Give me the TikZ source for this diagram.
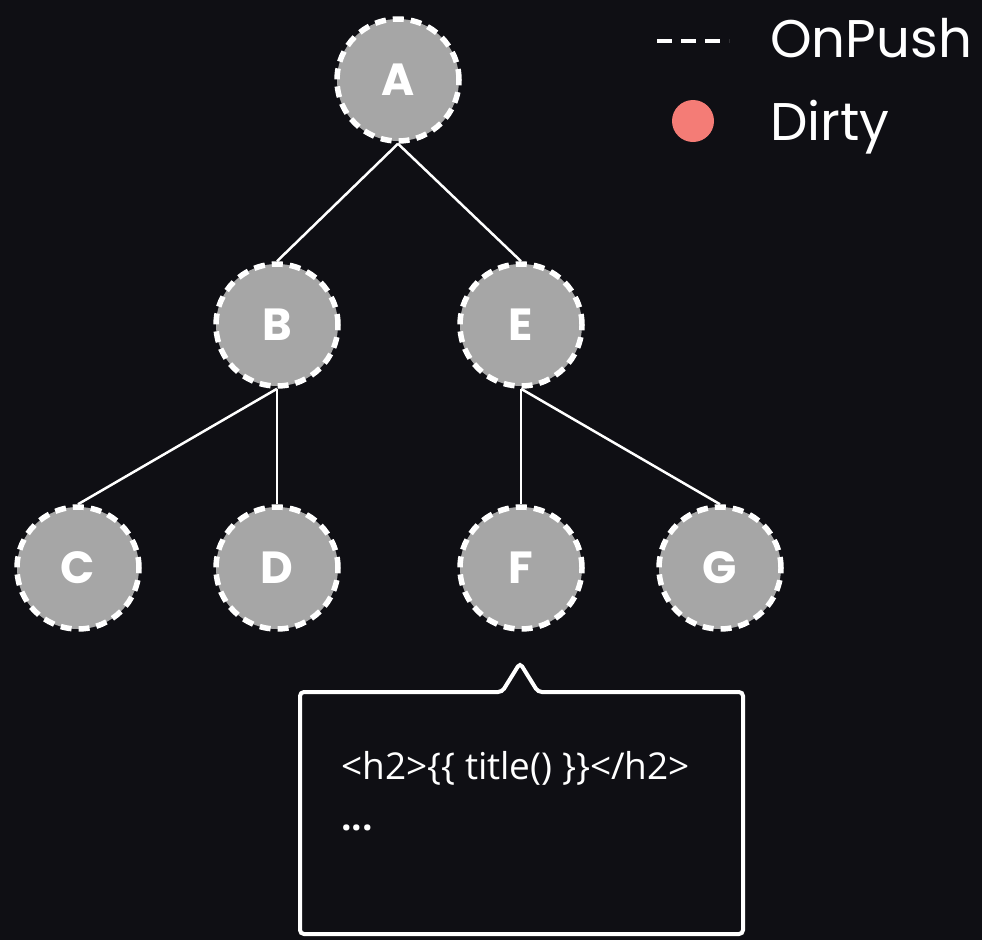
\documentclass[tikz,border=0pt]{standalone}
\usepackage{fontspec}
\setmainfont{Poppins}
\newfontfamily\codefont{Open Sans}
\definecolor{bgc}{HTML}{0F0F14}
\definecolor{nodegray}{HTML}{A6A6A6}
\definecolor{dirtyred}{HTML}{F47C76}
\begin{document}
\begin{tikzpicture}[x=1pt,y=-1pt,
  comp/.style={circle, minimum size=122pt, inner sep=0pt, fill=nodegray, draw=white,
    line width=5.5pt, dash pattern=on 11pt off 7pt,
    text=white, font=\fontsize{45}{45}\selectfont\bfseries},
  edge/.style={draw=white, line width=2.5pt},
  legendtext/.style={text=white, anchor=base west, inner sep=0pt, font=\fontsize{53}{53}\selectfont},
  codetext/.style={text=white, anchor=base west, inner sep=0pt, font=\codefont\fontsize{37}{37}\selectfont},
  callout/.style={draw=white, line width=4pt, rounded corners=4pt}]
\fill[bgc] (0,0) rectangle (982,940);
\useasboundingbox (0,0) rectangle (982,940);

\node[comp] (A) at (398,80) {A};
\node[comp] (B) at (277,325) {B};
\node[comp] (E) at (521,325) {E};
\node[comp] (C) at (78,568) {C};
\node[comp] (D) at (277,568) {D};
\node[comp] (F) at (521,568) {F};
\node[comp] (G) at (720,568) {G};

\draw[edge] (A.south) -- (B.north);
\draw[edge] (A.south) -- (E.north);
\draw[edge] (B.south) -- (C.north);
\draw[edge] (B.south) -- (D.north);
\draw[edge] (E.south) -- (F.north);
\draw[edge] (E.south) -- (G.north);

% legend
\coordinate (l1) at (657,41);
\coordinate (l2) at (729,41);
\draw[white, line width=4.5pt, dash pattern=on 15pt off 9pt] (l1) -- (l2);
\node[legendtext] (onpush) at (770,57) {OnPush};
\node[circle, fill=dirtyred, minimum size=42pt, inner sep=0pt] (dot) at (693,121) {};
\node[legendtext] (dirty) at (770,140) {Dirty};

% callout
\draw[callout] (300,692) -- (502,692) -- (520,663) -- (538,692) -- (743,692)
  -- (743,934) -- (300,934) -- cycle;
\node[codetext] (code1) at (341,779) {<h2>\{\{ title() \}\}</h2>};
\node[codetext] (code2) at (341,830) {\textbf{...}};
\end{tikzpicture}
\end{document}
